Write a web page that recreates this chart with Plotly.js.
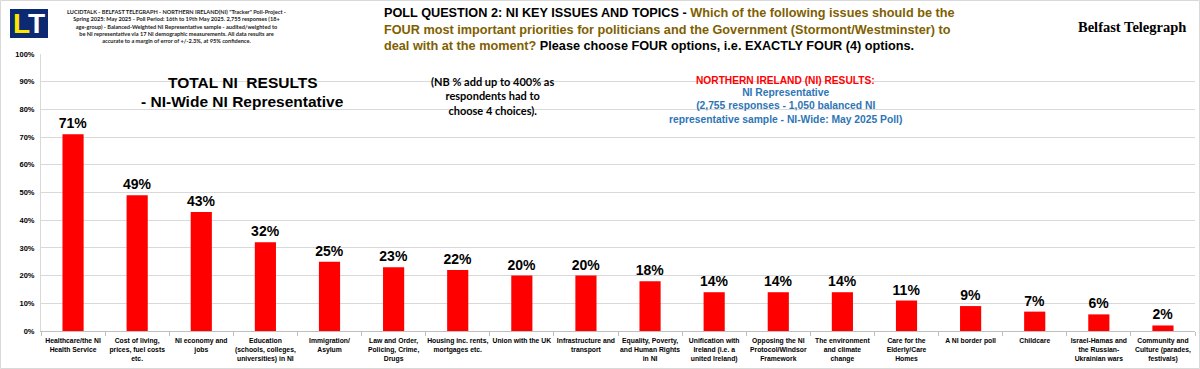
<!DOCTYPE html>
<html>
<head>
<meta charset="utf-8">
<script src="https://cdn.plot.ly/plotly-3.0.1.min.js"></script>
<style>html,body{margin:0;padding:0;background:#fff;}#chart{width:1200px;height:369px;}</style>
</head>
<body>
<div id="chart"></div>
<script>
// ---- DATA ----
const categories = [
  "Healthcare", "Cost of living", "NI economy", "Education", "Immigration",
  "Law and Order", "Housing", "Union with the UK", "Infrastructure", "Equality",
  "Unification", "Opposing NI Protocol", "Environment", "Care for the Elderly",
  "NI border poll", "Childcare", "Israel-Hamas/Russia-Ukraine", "Community and Culture"
];
const values = [71, 49, 43, 32, 25, 23, 22, 20, 20, 18, 14, 14, 14, 11, 9, 7, 6, 2];
const tickLabels = [
  "Healthcare/the NI<br>Health Service",
  "Cost of living,<br>prices, fuel costs<br>etc.",
  "NI economy and<br>jobs",
  "Education<br>(schools, colleges,<br>universities) in NI",
  "Immigration/<br>Asylum",
  "Law and Order,<br>Policing, Crime,<br>Drugs",
  "Housing inc. rents,<br>mortgages etc.",
  "Union with the UK",
  "Infrastructure and<br>transport",
  "Equality, Poverty,<br>and Human Rights<br>in NI",
  "Unification with<br>Ireland (i.e. a<br>united Ireland)",
  "Opposing the NI<br>Protocol/Windsor<br>Framework",
  "The environment<br>and climate<br>change",
  "Care for the<br>Elderly/Care<br>Homes",
  "A NI border poll",
  "Childcare",
  "Israel-Hamas and<br>the Russian-<br>Ukrainian wars",
  "Community and<br>Culture (parades,<br>festivals)"
];
const yTickVals = [0, 10, 20, 30, 40, 50, 60, 70, 80, 90, 100];
const yTickLabels = ["0%", "10%", "20%", "30%", "40%", "50%", "60%", "70%", "80%", "90%", "100%"];

// ---- LAYOUT HELPERS ----
const W = 1200, H = 369;
const L = 41, R = 5, T = 54, B = 38;
const pw = W - L - R, ph = H - T - B;
const px = x => (x - L) / pw;
const py = y => (H - B - y) / ph;

const bold = "Liberation Sans, Arial, sans-serif";
const olive = "#7f6000";

function ann(x, y, text, size, color, family, extra) {
  return Object.assign({
    xref: "paper", yref: "paper", x: px(x), y: py(y), text: text,
    showarrow: false, xanchor: "center", yanchor: "middle",
    font: {family: family || bold, size: size, color: color || "#000", weight: 700}
  }, extra || {});
}

const annotations = [
  // header small print
  ann(176, 25.5,
    'LUCIDTALK - BELFAST TELEGRAPH - NORTHERN IRELAND(NI) "Tracker" Poll-Project -<br>' +
    'Spring 2025: May 2025 - Poll Period: 16th to 19th May 2025. 2,755 responses (18+<br>' +
    'age-group) - Balanced-Weighted NI Representative sample - audited/weighted to<br>' +
    'be NI representative via 17 NI demographic measurements. All data results are<br>' +
    'accurate to a margin of error of +/-2.3%, at 95% confidence.',
    5.6, "#222", "Lato, sans-serif"),
  // logo letters
  ann(29, 23.5, '<span style="color:#ffe600">L</span>T', 28, "#ffffff"),
  // main title (3 lines)
  ann(669, 13.5, 'POLL QUESTION 2: NI KEY ISSUES AND TOPICS - <span style="color:' + olive + '">Which of the following issues should be the</span>', 12.7, "#000"),
  ann(667, 29.5, '<span style="color:' + olive + '">FOUR most important priorities for politicians and the Government (Stormont/Westminster) to</span>', 12.7, "#000"),
  ann(649, 45.5, '<span style="color:' + olive + '">deal with at the moment?</span> Please choose FOUR options, i.e. EXACTLY FOUR (4) options.', 12.7, "#000"),
  // Belfast Telegraph
  ann(1132, 27, 'Belfast Telegraph', 14.5, "#000", "Liberation Serif, Times New Roman, serif"),
  // chart titles
  ann(243, 82, 'TOTAL NI  RESULTS', 15.5, "#000"),
  ann(242, 101, '- NI-Wide NI Representative', 15.5, "#000"),
  // NB note
  ann(492, 96, '(NB % add up to 400% as<br>respondents had to<br>choose 4 choices).', 11, "#000", "Lato, sans-serif"),
  // NI results box
  ann(785, 80.5, 'NORTHERN IRELAND (NI) RESULTS:', 10.2, "#ff0000"),
  ann(785, 106, 'NI Representative<br>(2,755 responses - 1,050 balanced NI<br>representative sample - NI-Wide: May 2025 Poll)', 10.3, "#2e75b6")
];

const shapes = [
  // outer frame
  {type: "rect", xref: "paper", yref: "paper", x0: px(0.5), x1: px(1199.5), y0: py(0.5), y1: py(368.5),
   line: {color: "#d9d9d9", width: 1}, fillcolor: "rgba(0,0,0,0)", layer: "below"},
  // logo box
  {type: "rect", xref: "paper", yref: "paper", x0: px(10), x1: px(48), y0: py(9), y1: py(38),
   line: {width: 0}, fillcolor: "#0b2a72", layer: "below"}
];

const trace = {
  type: "bar",
  x: categories,
  y: values,
  marker: {color: "#ff0000", line: {width: 0}},
  text: values.map(v => v + "%"),
  texttemplate: "%{text}",
  textposition: "outside",
  constraintext: "none",
  cliponaxis: false,
  textfont: {family: bold, size: 14, color: "#000", weight: 700},
  hoverinfo: "x+y"
};

const layout = {
  width: W, height: H,
  margin: {l: L, r: R, t: T, b: B, pad: 0},
  paper_bgcolor: "#ffffff", plot_bgcolor: "#ffffff",
  showlegend: false,
  bargap: 0.67,
  xaxis: {
    type: "category",
    tickmode: "array", tickvals: categories, ticktext: tickLabels,
    tickfont: {family: bold, size: 6.8, color: "#000", weight: 700},
    showline: true, linecolor: "#bfbfbf", linewidth: 1,
    ticks: "outside", tickson: "boundaries", ticklen: 4, tickcolor: "#bfbfbf",
    ticklabelstandoff: 3,
    showgrid: false, automargin: false, tickangle: 0
  },
  yaxis: {
    range: [0, 100], tickmode: "array", tickvals: yTickVals, ticktext: yTickLabels,
    tickfont: {family: bold, size: 7.5, color: "#000", weight: 700},
    showgrid: true, gridcolor: "#d9d9d9", gridwidth: 1,
    showline: true, linecolor: "#d9d9d9", zeroline: false,
    ticks: "outside", ticklen: 4, tickcolor: "rgba(0,0,0,0)",
    automargin: false, fixedrange: true
  },
  annotations: annotations,
  shapes: shapes
};

Plotly.newPlot("chart", [trace], layout, {displayModeBar: false, staticPlot: true});
</script>
</body>
</html>
